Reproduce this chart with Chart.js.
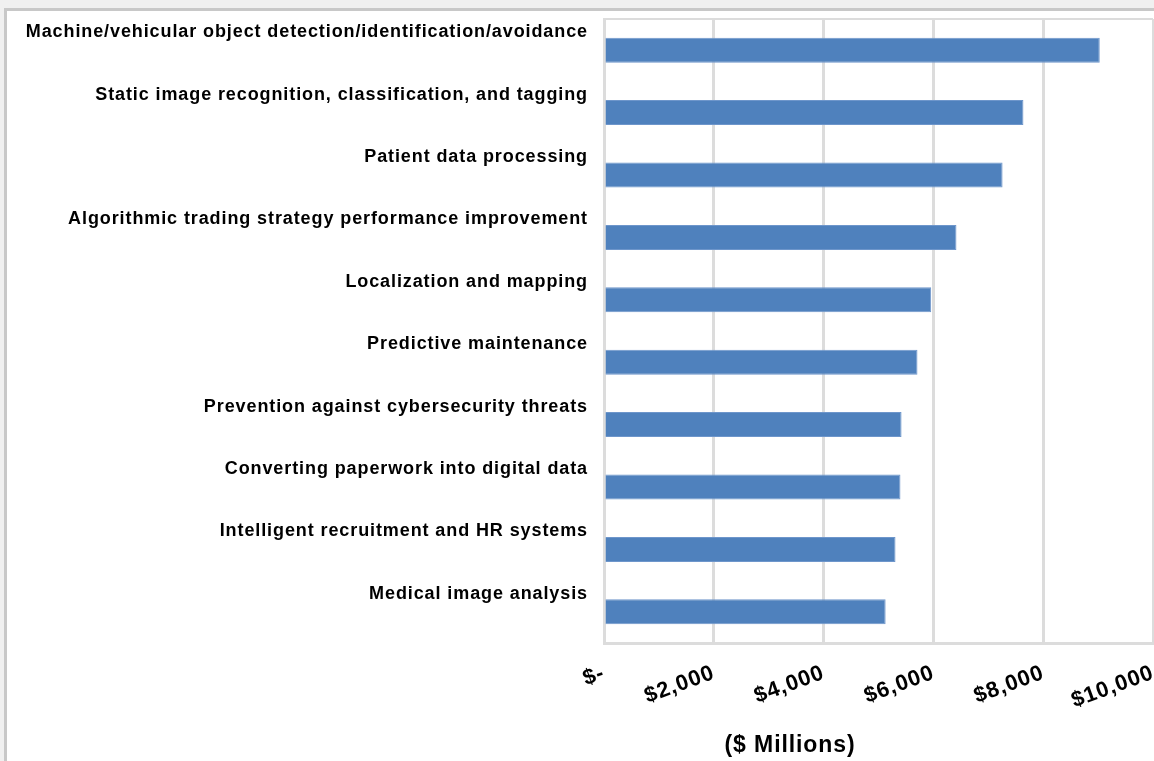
<!DOCTYPE html>
<html>
<head>
<meta charset="utf-8">
<script src="https://cdn.jsdelivr.net/npm/chart.js@4/dist/chart.umd.min.js"></script>
<style>
  html, body { margin: 0; padding: 0; background: #f0f0f0; width: 1154px; height: 761px; overflow: hidden; }
  #panel { position: absolute; left: 4px; top: 8px; width: 1150px; height: 753px; background: #ffffff;
           border-left: 3px solid #c8c8c8; border-top: 3px solid #c8c8c8; box-sizing: border-box; }
  #c { position: absolute; left: 0; top: 0; }
</style>
</head>
<body>
<div id="panel"></div>
<canvas id="c" width="1154" height="761"></canvas>
<script>
const categories = [
  'Machine/vehicular object detection/identification/avoidance',
  'Static image recognition, classification, and tagging',
  'Patient data processing',
  'Algorithmic trading strategy performance improvement',
  'Localization and mapping',
  'Predictive maintenance',
  'Prevention against cybersecurity threats',
  'Converting paperwork into digital data',
  'Intelligent recruitment and HR systems',
  'Medical image analysis'
];
const values = [9030, 7640, 7260, 6420, 5960, 5710, 5420, 5400, 5310, 5130];
const xTickLabels = ['$-', '$2,000', '$4,000', '$6,000', '$8,000', '$10,000'];
const axisTitle = '($ Millions)';

const FONT = '"Liberation Sans", Arial, Helvetica, sans-serif';
const GRID = '#dcdcdc';

function zeroPad(scale) {
  scale.paddingTop = 0; scale.paddingBottom = 0;
  scale.paddingLeft = 0; scale.paddingRight = 0;
}

const spacingPlugin = {
  id: 'spacing',
  beforeUpdate(chart) { chart.ctx.letterSpacing = '0.9px'; },
  beforeDraw(chart) { chart.ctx.letterSpacing = '0.9px'; }
};

const framePlugin = {
  id: 'frame',
  beforeDatasetsDraw(chart) {
    const { ctx, chartArea } = chart;
    ctx.save();
    ctx.strokeStyle = GRID;
    ctx.lineWidth = 2;
    ctx.beginPath();
    ctx.moveTo(chartArea.left, chartArea.top);
    ctx.lineTo(chartArea.right, chartArea.top);
    ctx.stroke();
    ctx.restore();
  }
};

const titlePlugin = {
  id: 'xTitle',
  afterDraw(chart) {
    const { ctx, chartArea } = chart;
    ctx.save();
    ctx.letterSpacing = '0.9px';
    ctx.font = 'bold 23px ' + FONT;
    ctx.fillStyle = '#000';
    ctx.textAlign = 'center';
    ctx.textBaseline = 'middle';
    ctx.fillText(axisTitle, chartArea.left + 186, chartArea.bottom + 103);
    ctx.restore();
  }
};

new Chart(document.getElementById('c'), {
  type: 'bar',
  data: {
    labels: categories,
    datasets: [{
      data: values,
      backgroundColor: '#4f81bd',
      borderColor: '#6e96cb',
      borderWidth: 1,
      barPercentage: 0.5,
      categoryPercentage: 0.8
    }]
  },
  plugins: [spacingPlugin, framePlugin, titlePlugin],
  options: {
    indexAxis: 'y',
    responsive: false,
    animation: false,
    layout: { padding: { top: 19, left: 10, right: 1, bottom: 0 } },
    plugins: { legend: { display: false }, tooltip: { enabled: false }, title: { display: false } },
    scales: {
      x: {
        min: 0, max: 10000,
        afterFit(scale) { scale.height = 118; zeroPad(scale); },
        grid: { color: GRID, lineWidth: 3, drawTicks: false },
        border: { display: true, color: GRID, width: 3 },
        ticks: {
          stepSize: 2000,
          autoSkip: false,
          minRotation: 20,
          maxRotation: 20,
          padding: 17,
          color: '#000',
          font: { family: FONT, size: 22, weight: 'bold' },
          callback: (value, index) => xTickLabels[index]
        }
      },
      y: {
        afterFit(scale) { scale.width = 594; zeroPad(scale); },
        grid: { display: false, drawTicks: false },
        border: { display: true, color: GRID, width: 3 },
        ticks: {
          autoSkip: false,
          padding: 16,
          labelOffset: -18,
          color: '#000',
          font: { family: FONT, size: 18, weight: 'bold' }
        }
      }
    }
  }
});
</script>
</body>
</html>
